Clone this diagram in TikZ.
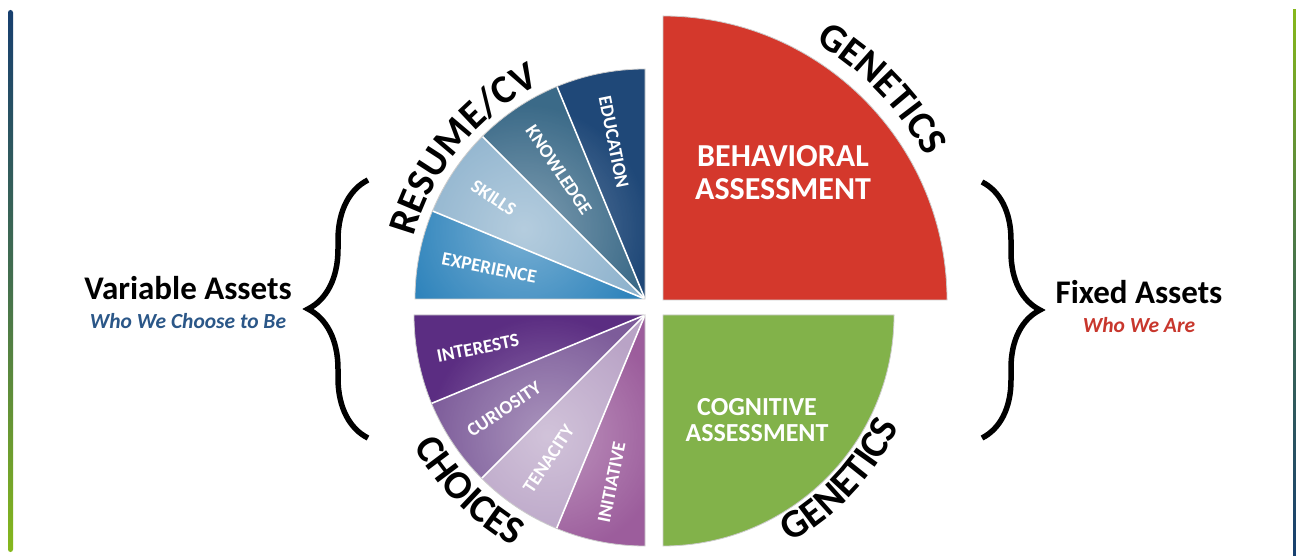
\documentclass[tikz,border=0pt]{standalone}
\usepackage{fontspec}
\setmainfont{Carlito}
\usetikzlibrary{positioning,decorations.text,decorations.pathreplacing,fadings}

\definecolor{cExp}{HTML}{2F84BC}
\definecolor{cSki}{HTML}{8DB2CD}
\definecolor{cKno}{HTML}{3B6A88}
\definecolor{cEdu}{HTML}{1F4878}
\definecolor{cInt}{HTML}{5B2D82}
\definecolor{cCur}{HTML}{7D5C9A}
\definecolor{cTen}{HTML}{B9A3C6}
\definecolor{cIni}{HTML}{9C5D9C}
\definecolor{cRed}{HTML}{D4382C}
\definecolor{cGreen}{HTML}{82B24A}
\definecolor{cWhoV}{HTML}{2B5788}
\definecolor{cWhoF}{HTML}{C8372D}
\definecolor{barBlue}{HTML}{173F6F}
\definecolor{barMid}{HTML}{436F4E}
\definecolor{barGreen}{HTML}{86B81C}

\tikzfading[name=glowfade, inner color=transparent!0, outer color=transparent!100]

\newcommand\arcfont{\fontsize{40}{42}\selectfont\bfseries\addfontfeature{LetterSpace=4}}

\begin{document}
\begin{tikzpicture}[x=1pt,y=1pt,
  slice/.style={font=\fontsize{19}{20}\selectfont\bfseries, text=white,
    inner sep=0pt, anchor=west},
  quad/.style={text=white, align=center, inner sep=0pt},
  asset/.style={font=\fontsize{33}{34}\selectfont\bfseries, inner sep=0pt},
  who/.style={font=\fontsize{21.5}{22}\selectfont\bfseries\itshape, inner sep=0pt},
  sep/.style={white, line width=1.6pt},
  rim/.style={draw=black!20, line width=0.8pt},
  curly/.style={decorate, decoration={brace, amplitude=#1}, line width=5.5pt},
  arcword/.style={decorate, decoration={text along path, text align=center,
    text={|\arcfont|#1}}},
]

% Page
\fill[white] (0,0) rectangle (1296,555);
\useasboundingbox (0,0) rectangle (1296,555);

% Side bars
\shade[top color=barBlue, bottom color=barGreen, middle color=barMid,
  rounded corners=2.5pt] (8,3) rectangle (13,545);
\shade[top color=barGreen, bottom color=barBlue, middle color=barMid]
  (1293,0) rectangle (1296,545);

% Centres of the four quarters
\coordinate (cv)  at (645,256);
\coordinate (gen) at (663,255);
\coordinate (cho) at (645,240);
\coordinate (cog) at (663,240);

% Resume/CV fan
\foreach \col [count=\i from 0] in {cExp,cSki,cKno,cEdu}{
  \pgfmathsetmacro\a{180-22.5*\i}
  \fill[\col] (cv) -- ++(\a:230) arc[start angle=\a, end angle=\a-22.5, radius=230] -- cycle;
}
\begin{scope}
  \clip (cv) -- ++(180:230) arc[start angle=180, end angle=90, radius=230] -- cycle;
  \fill[white, opacity=.35, path fading=glowfade] ([shift={(150:140)}]cv) circle (125);
\end{scope}
\foreach \t in {112.5,135,157.5}
  \draw[sep] (cv) -- ++(\t:230);
\draw[rim] (cv) -- ++(180:230) arc[start angle=180, end angle=90, radius=230] -- cycle;

% Choices fan
\foreach \col [count=\i from 0] in {cInt,cCur,cTen,cIni}{
  \pgfmathsetmacro\a{180+22.5*\i}
  \fill[\col] (cho) -- ++(\a:231) arc[start angle=\a, end angle=\a+22.5, radius=231] -- cycle;
}
\begin{scope}
  \clip (cho) -- ++(180:231) arc[start angle=180, end angle=270, radius=231] -- cycle;
  \fill[white, opacity=.35, path fading=glowfade] ([shift={(231:155)}]cho) circle (120);
\end{scope}
\foreach \t in {202.5,225,247.5}
  \draw[sep] (cho) -- ++(\t:231);
\draw[rim] (cho) -- ++(180:231) arc[start angle=180, end angle=270, radius=231] -- cycle;

% Genetics quarters
\fill[cRed, rim] (gen) -- ++(0:284) arc[start angle=0, end angle=90, radius=284] -- cycle;
\fill[cGreen, rim] (cog) -- ++(-90:231) arc[start angle=-90, end angle=0, radius=231] -- cycle;

% Slice labels
\foreach \nm/\lab [count=\i from 0] in {exp/EXPERIENCE, ski/SKILLS, kno/KNOWLEDGE, edu/EDUCATION}{
  \pgfmathsetmacro\m{180-22.5*\i-11.25}
  \node[slice, rotate=\m-180] (\nm) at ([shift={(\m:207)}]cv) {\lab};
}
\foreach \nm/\lab [count=\i from 0] in {int/INTERESTS, cur/CURIOSITY, ten/TENACITY, ini/INITIATIVE}{
  \pgfmathsetmacro\m{180+22.5*\i+11.25}
  \node[slice, rotate=\m-180] (\nm) at ([shift={(\m:212)}]cho) {\lab};
}

% Quarter titles
\node[quad, font=\fontsize{32}{33}\selectfont\bfseries] (beh) at (783,382) {BEHAVIORAL\\ASSESSMENT};
\node[quad, font=\fontsize{26}{26}\selectfont\bfseries] (cogn) at (757,135) {COGNITIVE\\ASSESSMENT};

% Words round the rim
\path[arcword=RESUME/CV] ([shift={(181:239)}]cv) arc[start angle=181, end angle=100, radius=239];
\path[arcword=GENETICS] ([shift={(87:299)}]gen) arc[start angle=87, end angle=1, radius=299];
\path[arcword=CHOICES] ([shift={(183:266)}]cho) arc[start angle=183, end angle=267, radius=266];
\path[arcword=GENETICS] ([shift={(-85:261)}]cog) arc[start angle=-85, end angle=-1, radius=261];

% Braces
\coordinate (vbot) at (368,117);
\coordinate (vtop) at (368,375);
\coordinate (ftop) at (982,373);
\coordinate (fbot) at (982,117);
\draw[curly=60pt] (vbot) -- (vtop);
\draw[curly=58pt] (ftop) -- (fbot);

% Side labels
\node[asset] (var) at (188,267) {Variable Assets};
\node[who, text=cWhoV, below=13pt of var] (varsub) {Who We Choose to Be};
\node[asset] (fix) at (1139,263) {Fixed Assets};
\node[who, text=cWhoF, below=13pt of fix] (fixsub) {Who We Are};

\end{tikzpicture}
\end{document}
